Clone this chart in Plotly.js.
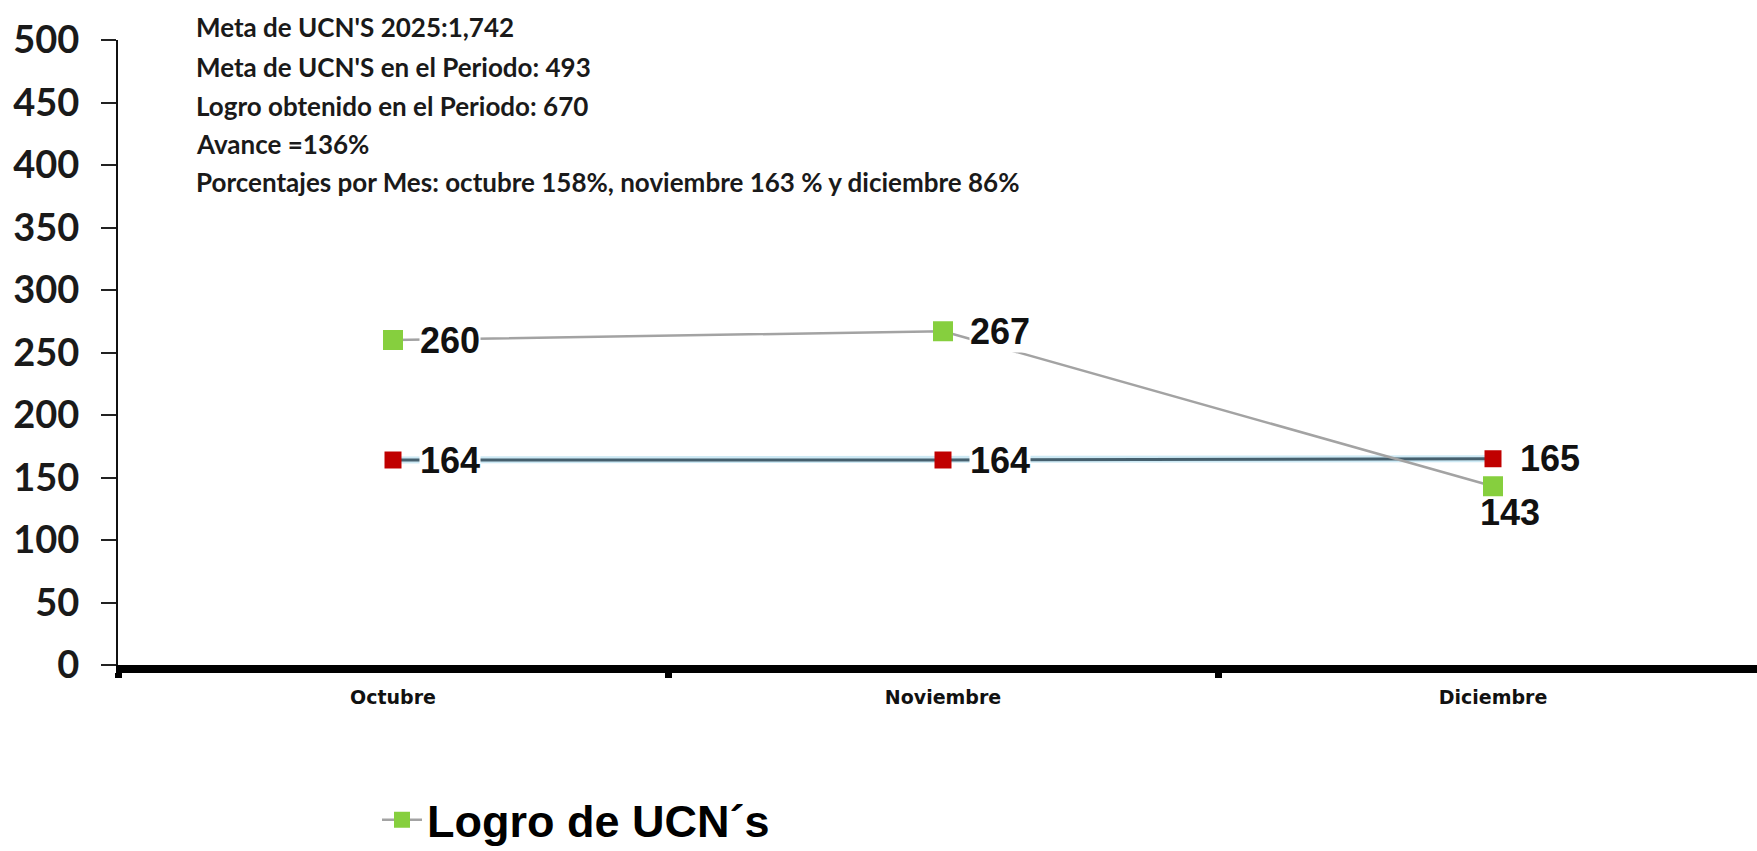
<!DOCTYPE html>
<html><head><meta charset="utf-8">
<script src="https://cdn.plot.ly/plotly-3.0.1.min.js"></script>
<style>html,body{margin:0;padding:0;background:#fff}#chart{width:1757px;height:851px}</style>
</head><body><div id="chart"></div>
<script>
// ---- data ----
const months = ['Octubre', 'Noviembre', 'Diciembre'];
const metaValues = [164, 164, 165];      // Meta de UCN's (red)
const logroValues = [260, 267, 143];     // Logro de UCN's (green)
const yTickValues = [0, 50, 100, 150, 200, 250, 300, 350, 400, 450, 500];
const logroName = 'Logro de UCN´s';
const metaName = 'Meta de UCN´s';
const infoLines = [
  "Meta de UCN'S 2025:1,742",
  "Meta de UCN'S en el Periodo: 493",
  "Logro obtenido en el Periodo: 670",
  "Avance =136%",
  "Porcentajes por Mes: octubre 158%, noviembre 163 % y diciembre 86%"
];

// ---- layout geometry (pixels) ----
const W = 1757, H = 851;
const plotL = 118, plotR = 1757, plotT = 40, plotB = 665;
const pw = plotR - plotL, ph = plotB - plotT;
const pxX = px => (px - plotL) / pw;
const pxY = py => (plotB - py) / ph;

const labelFont = {family: '"Liberation Sans", Arial, sans-serif', size: 36, color: '#111', weight: 700};

const traces = [
  {
    x: months, y: metaValues, name: metaName, type: 'scatter', mode: 'lines',
    line: {color: '#cde9f4', width: 7}, showlegend: false, hoverinfo: 'skip'
  },
  {
    x: months, y: metaValues, name: metaName, type: 'scatter', mode: 'lines+markers',
    line: {color: '#46606e', width: 3},
    marker: {symbol: 'square', size: 17, color: '#c00000'},
    showlegend: false
  },
  {
    x: months, y: logroValues, name: logroName, type: 'scatter', mode: 'lines+markers',
    line: {color: '#a3a3a3', width: 2.5},
    marker: {symbol: 'square', size: 20, color: '#86cf3e'},
    showlegend: true
  }
];

const annotations = [];
// value labels
metaValues.forEach((v, i) => {
  annotations.push({x: months[i], y: v, xref: 'x', yref: 'y', text: String(v), showarrow: false,
    xanchor: 'left', yanchor: 'middle', xshift: 26, font: labelFont, bgcolor: '#ffffff', borderpad: 0});
});
logroValues.forEach((v, i) => {
  const below = v < metaValues[i];
  annotations.push(below ?
    {x: months[i], y: v, xref: 'x', yref: 'y', text: String(v), showarrow: false,
      xanchor: 'center', yanchor: 'middle', xshift: 17, yshift: -26, font: labelFont, bgcolor: 'rgba(255,255,255,0)', borderpad: 0} :
    {x: months[i], y: v, xref: 'x', yref: 'y', text: String(v), showarrow: false,
      xanchor: 'left', yanchor: 'middle', xshift: 26, font: labelFont, bgcolor: '#ffffff', borderpad: 0});
});
// info text block
const infoY = [27, 67, 106, 144, 182];
infoLines.forEach((t, i) => {
  annotations.push({xref: 'paper', yref: 'paper', x: pxX(194), y: pxY(infoY[i]), text: t, showarrow: false,
    xanchor: 'left', yanchor: 'middle', align: 'left',
    font: {family: 'Lato, "Open Sans", sans-serif', size: 26, color: '#1a1a1a', weight: 700}});
});

const layout = {
  width: W, height: H,
  margin: {l: plotL, r: W - plotR, t: plotT, b: H - plotB, autoexpand: false},
  paper_bgcolor: '#ffffff', plot_bgcolor: '#ffffff',
  xaxis: {
    type: 'category', range: [-0.5, -0.5 + pw / 550],
    showline: true, linecolor: '#000', linewidth: 8,
    showgrid: false, zeroline: false,
    ticks: 'outside', tickson: 'boundaries', ticklen: 5, tickwidth: 7, tickcolor: '#000',
    tickfont: {family: '"DejaVu Sans", Verdana, sans-serif', size: 19, color: '#111', weight: 700},
    ticklabelstandoff: 8
  },
  yaxis: {
    range: [0, 500], tickvals: yTickValues, ticktext: yTickValues.map(String),
    showline: true, linecolor: '#111', linewidth: 2,
    showgrid: false, zeroline: false,
    ticks: 'outside', ticklen: 15, tickwidth: 2, tickcolor: '#222',
    tickfont: {family: 'Lato, "Open Sans", sans-serif', size: 38, color: '#1a1a1a', weight: 700},
    ticklabelstandoff: 14
  },
  showlegend: true,
  legend: {
    x: pxX(377), y: pxY(820), xanchor: 'left', yanchor: 'middle', orientation: 'h',
    itemwidth: 40,
    font: {family: '"Liberation Sans", Arial, sans-serif', size: 45, color: '#000', weight: 700},
    bgcolor: 'rgba(0,0,0,0)', borderwidth: 0
  },
  annotations: annotations
};

Plotly.newPlot('chart', traces, layout, {displayModeBar: false, staticPlot: true});
</script>
</body></html>
